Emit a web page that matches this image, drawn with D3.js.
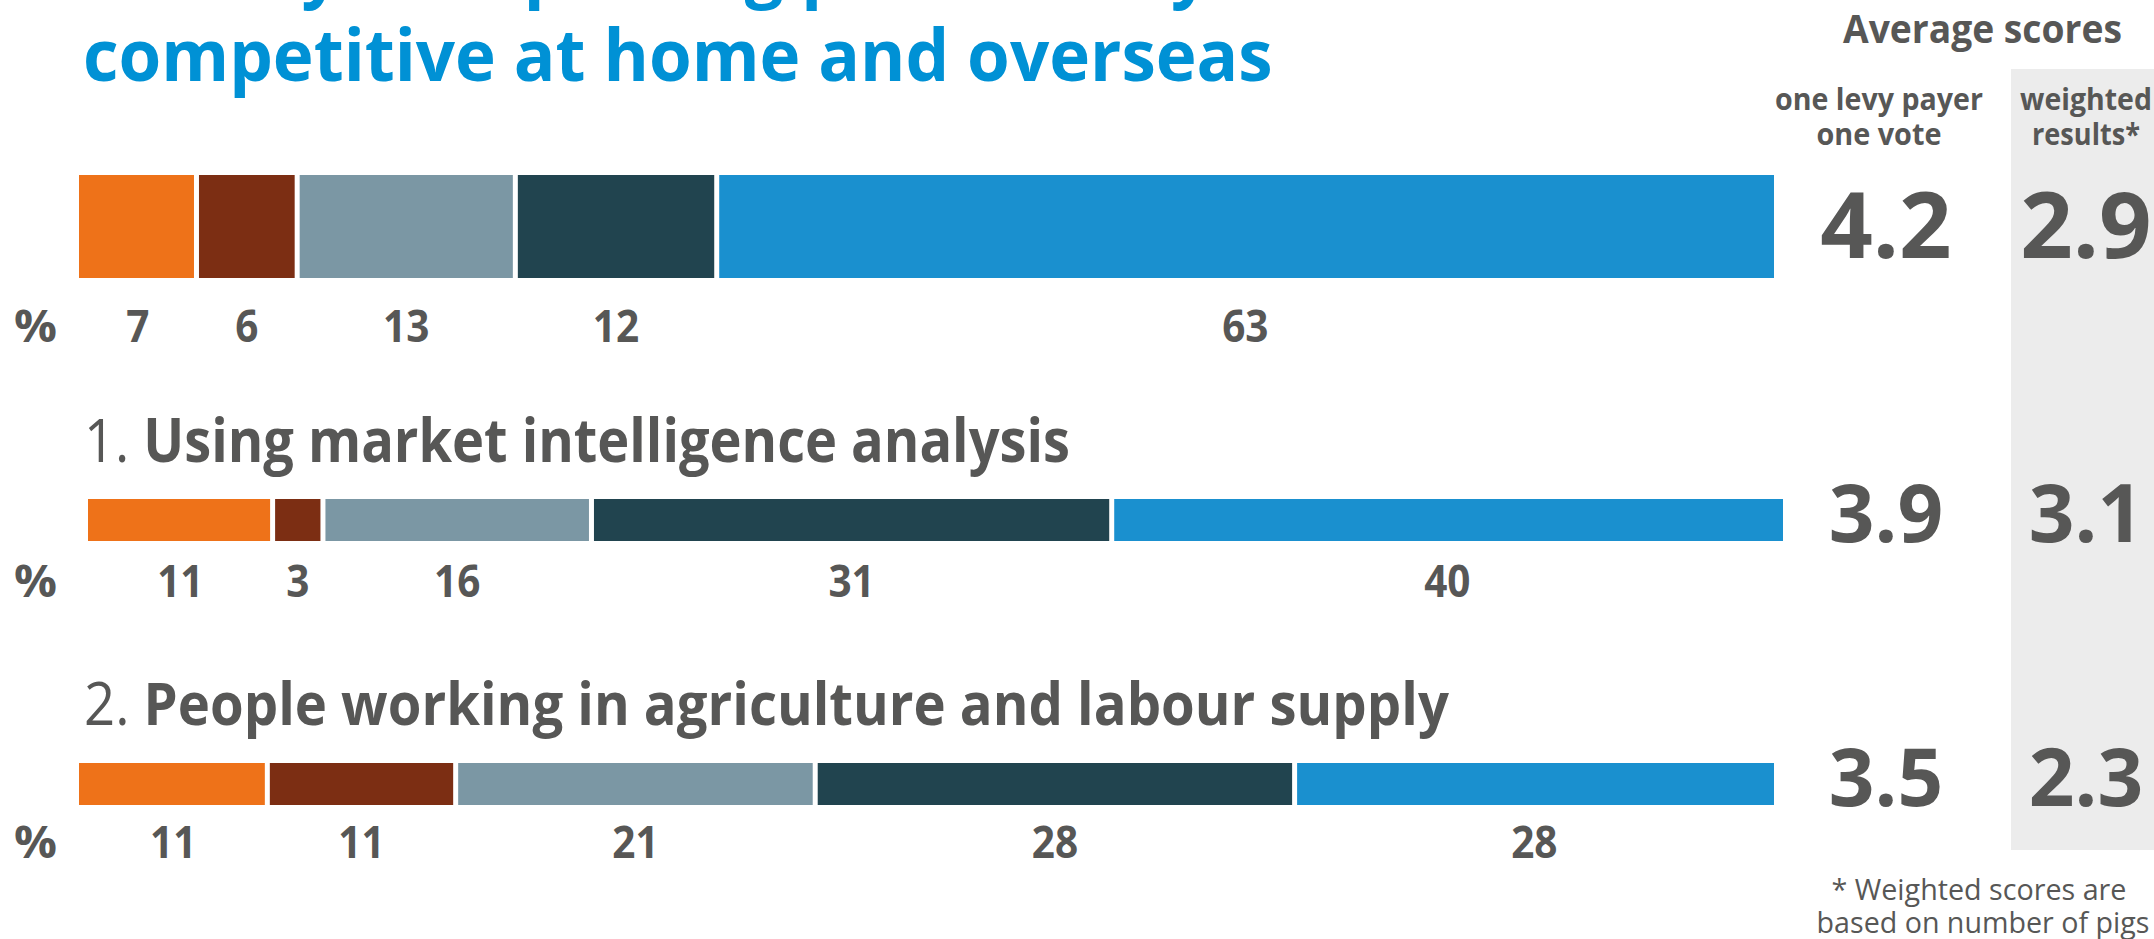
<!DOCTYPE html>
<html>
<head>
<meta charset="utf-8">
<script src="https://cdn.jsdelivr.net/npm/d3@7"></script>
<style>
  html, body { margin: 0; padding: 0; background: #ffffff; }
  svg { display: block; }
</style>
</head>
<body>
<div id="chart"></div>
<script>
// ---------------- DATA ----------------
const titleLines = ["Priority 1: Improving profitability", "competitive at home and overseas"];
const rowNumbers = ["", "1.", "2."];
const rowTitles = ["", "Using market intelligence analysis", "People working in agriculture and labour supply"];
const responseLevels = ["1", "2", "3", "4", "5"];
const overallValues = [7, 6, 13, 12, 63];
const marketIntelligenceValues = [11, 3, 16, 31, 40];
const labourSupplyValues = [11, 11, 21, 28, 28];
const oneLevyPayerScores = [4.2, 3.9, 3.5];
const weightedScores = [2.9, 3.1, 2.3];
const scoreHeader = "Average scores";
const colHeaderOne = ["one levy payer", "one vote"];
const colHeaderTwo = ["weighted", "results*"];
const footnoteLines = ["* Weighted scores are", "based on number of pigs"];
const percentLabel = "%";

// ---------------- STYLE / LAYOUT ----------------
const W = 2154, H = 939;
const colors = ["#ee7219", "#7c2e13", "#7b97a4", "#21444f", "#1a90cf"];
const textGrey = "#575756";
const titleBlue = "#0091d5";
const FONT = "'Open Sans', 'Noto Sans', sans-serif";
const barWidth = 1695;
const segGap = 5;

const rows = [
  { values: overallValues, x0: 79, barTop: 175, barH: 103, labelY: 342, titleY: null, scoreY: 258, scoreSize: 92 },
  { values: marketIntelligenceValues, x0: 88, barTop: 499, barH: 42, labelY: 597, titleY: 462, scoreY: 542, scoreSize: 80, titleW: 986 },
  { values: labourSupplyValues, x0: 79, barTop: 763, barH: 42, labelY: 858, titleY: 725, scoreY: 806, scoreSize: 80, titleW: 1365 }
];

function fitX(sel, target) {
  const node = sel.node();
  const w = node.getComputedTextLength();
  if (!w) return;
  const s = target / w;
  const x = +sel.attr("x");
  sel.attr("transform", `translate(${x},0) scale(${s},1) translate(${-x},0)`);
}
function squeeze(sel, s) {
  const x = +sel.attr("x");
  sel.attr("transform", `translate(${x},0) scale(${s},1) translate(${-x},0)`);
}

function draw() {
  const svg = d3.select("#chart").append("svg")
    .attr("width", W).attr("height", H)
    .style("font-family", FONT);

  // grey column behind weighted results
  svg.append("rect")
    .attr("x", 2011).attr("y", 69)
    .attr("width", W - 2011).attr("height", 850 - 69)
    .attr("fill", "#ececec");

  // title
  const tl1 = svg.append("text").attr("x", 83).attr("y", -6)
    .attr("font-size", 72).attr("font-weight", 700).attr("fill", titleBlue)
    .text(titleLines[0]);
  fitX(tl1, 1127);
  const tl2 = svg.append("text").attr("x", 83).attr("y", 81)
    .attr("font-size", 72).attr("font-weight", 700).attr("fill", titleBlue)
    .text(titleLines[1]);
  fitX(tl2, 1190);

  // score header
  const hdr = svg.append("text").attr("x", 1843).attr("y", 43)
    .attr("font-size", 40).attr("font-weight", 700).attr("fill", textGrey)
    .text(scoreHeader);
  fitX(hdr, 279);

  const colOneX = 1879, colTwoX = 2086;
  [[colHeaderOne, colOneX, [208, 125]], [colHeaderTwo, colTwoX, [132, 108]]].forEach(([lines, cx, ws]) => {
    lines.forEach((ln, i) => {
      const t = svg.append("text").attr("x", cx).attr("y", 110 + i * 35)
        .attr("text-anchor", "middle")
        .attr("font-size", 30).attr("font-weight", 700).attr("fill", textGrey)
        .text(ln);
      fitX(t, ws[i]);
    });
  });

  // rows
  rows.forEach((row, r) => {
    const total = d3.sum(row.values);
    const xs = d3.scaleLinear().domain([0, total]).range([row.x0, row.x0 + barWidth]);
    const stacked = [];
    let cum = 0;
    row.values.forEach((v, i) => { stacked.push({ v, i, start: cum, end: cum + v }); cum += v; });
    const last = stacked.length - 1;

    const g = svg.append("g");
    g.selectAll("rect.seg").data(stacked).join("rect")
      .attr("class", "seg")
      .attr("x", d => xs(d.start) + (d.i > 0 ? segGap / 2 : 0))
      .attr("y", row.barTop)
      .attr("width", d => xs(d.end) - xs(d.start) - (d.i > 0 ? segGap / 2 : 0) - (d.i < last ? segGap / 2 : 0))
      .attr("height", row.barH)
      .attr("fill", d => colors[d.i]);

    g.selectAll("text.val").data(stacked).join("text")
      .attr("class", "val")
      .attr("x", d => (xs(d.start) + xs(d.end)) / 2)
      .attr("y", row.labelY)
      .attr("text-anchor", "middle")
      .attr("font-size", 45).attr("font-weight", 700).attr("fill", textGrey)
      .text(d => d.v)
      .each(function () { squeeze(d3.select(this), 0.9); });

    const pct = g.append("text").attr("x", 14).attr("y", row.labelY)
      .attr("font-size", 45).attr("font-weight", 700).attr("fill", textGrey)
      .text(percentLabel);
    fitX(pct, 43);

    if (row.titleY !== null) {
      const t = g.append("text").attr("x", 84).attr("y", row.titleY)
        .attr("font-size", 60).attr("fill", textGrey);
      t.append("tspan").attr("font-weight", 400).text(rowNumbers[r] + " ");
      t.append("tspan").attr("font-weight", 700).text(rowTitles[r]);
      fitX(t, row.titleW);
    }

    g.append("text").attr("x", colOneX + 7).attr("y", row.scoreY)
      .attr("text-anchor", "middle")
      .attr("font-size", row.scoreSize).attr("font-weight", 700).attr("fill", textGrey)
      .text(d3.format(".1f")(oneLevyPayerScores[r]));
    g.append("text").attr("x", colTwoX).attr("y", row.scoreY)
      .attr("text-anchor", "middle")
      .attr("font-size", row.scoreSize).attr("font-weight", 700).attr("fill", textGrey)
      .text(d3.format(".1f")(weightedScores[r]));
  });

  // footnote
  const fw = [295, 333];
  const fx = [1979, 1983];
  footnoteLines.forEach((ln, i) => {
    const t = svg.append("text").attr("x", fx[i]).attr("y", 900 + i * 33)
      .attr("text-anchor", "middle")
      .attr("font-size", 30).attr("font-weight", 400).attr("fill", textGrey)
      .text(ln);
    fitX(t, fw[i]);
  });
}

if (document.fonts && document.fonts.ready) {
  document.fonts.ready.then(draw);
} else {
  draw();
}
</script>
</body>
</html>
